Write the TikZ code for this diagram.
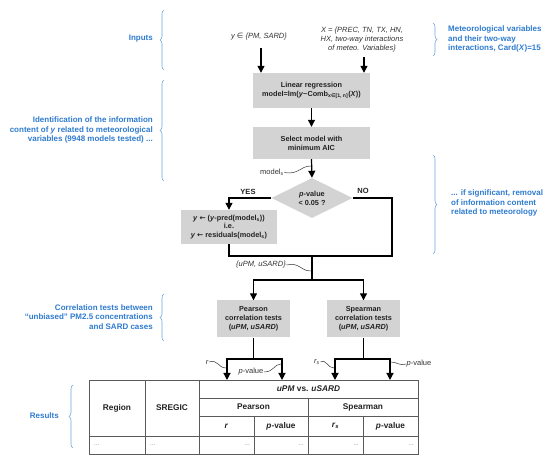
\documentclass[tikz,border=0pt]{standalone}
\usepackage{fontspec}
\setmainfont{Liberation Sans}
\newfontfamily\djv{DejaVu Sans}
\usetikzlibrary{arrows.meta,shapes.geometric,decorations.pathreplacing}
\definecolor{boxgray}{HTML}{D3D3D3}
\definecolor{lblue}{HTML}{2E7BCF}
\definecolor{bblue}{HTML}{6FA8DC}
\definecolor{tline}{HTML}{5A5A5A}
\definecolor{txt}{HTML}{222222}
\begin{document}
\begin{tikzpicture}[x=1pt,y=-1pt,
  proc/.style={fill=boxgray, inner sep=0pt, align=center, text=txt, font=\fontsize{7.3}{8.8}\selectfont\bfseries},
  arr/.style={line width=1.2pt, -{Triangle[length=7pt,width=7pt]}},
  ln/.style={line width=1.2pt},
  sq/.style={line width=0.5pt, draw=black!80},
  blu/.style={text=lblue, inner sep=0pt, font=\fontsize{8}{9.2}\selectfont\bfseries},
  brc/.style={draw=bblue, line width=0.6pt, decorate, decoration={brace, amplitude=4pt}},
  lab/.style={font=\fontsize{7.5}{9}\selectfont\itshape, text=black!80, inner sep=0.5pt},
  th/.style={font=\fontsize{8.3}{10}\selectfont\bfseries, text=txt},
  tl/.style={draw=tline, line width=0.9pt},
  dts/.style={text=gray, font=\fontsize{6}{7}\selectfont, inner sep=0pt},
]
\useasboundingbox (0,0) rectangle (550,462);

% ---------- inputs
\node[lab] (yin) at (259,37) {y {\djv\upshape ∈} \{PM, SARD\}};
\node[lab, align=center] (xin) at (362,40) {X = \{PREC, TN, TX, HN,\\HX, two-way interactions\\of meteo. Variables\}};

% ---------- process boxes
\node[proc, minimum width=117, minimum height=35] (lr) at (311.5,90.5)
  {Linear regression\\model=lm(\textit{y}\textasciitilde Comb\textsubscript{x{\djv ∈}[1, n]}(\textit{X}))};
\node[proc, minimum width=117, minimum height=32] (sel) at (311.5,143)
  {Select model with\\minimum AIC};
\node[diamond, fill=boxgray, minimum width=81, minimum height=40, inner sep=0pt, aspect=2,
  align=center, text=txt, font=\fontsize{7.3}{8.8}\selectfont\bfseries] (dia) at (312,198)
  {\textit{p}-value\\< 0.05 ?};
\node[proc, minimum width=96, minimum height=34] (res) at (229,227)
  {\textit{y} {\djv ←} (\textit{y}-pred(model\textsubscript{s}))\\i.e.\\\textit{y} {\djv ←} residuals(model\textsubscript{s})};
\node[proc, minimum width=73, minimum height=37] (pe) at (253.5,319)
  {Pearson\\correlation tests\\(\textit{uPM}, \textit{uSARD})};
\node[proc, minimum width=73, minimum height=37] (spm) at (363.5,319)
  {Spearman\\correlation tests\\(\textit{uPM}, \textit{uSARD})};

% ---------- table
\node[draw=tline, line width=0.9pt, minimum width=329, minimum height=74, inner sep=0pt] (tab) at (253.5,417) {};
\draw[tl] (145,380) -- (145,454);
\draw[tl] (199,380) -- (199,454);
\draw[tl] (199,398) -- (418,398);
\draw[tl] (199,416) -- (418,416);
\draw[tl] (89,436) -- (418,436);
\draw[tl] (254,416) -- (254,454);
\draw[tl] (308,398) -- (308,454);
\draw[tl] (363,416) -- (363,454);
\node[th] (hreg) at (117,408) {Region};
\node[th] (hsre) at (172,408) {SREGIC};
\node[th] (hvs) at (308.5,389) {\textit{uPM} vs. \textit{uSARD}};
\node[th] (hpe) at (253.5,407) {Pearson};
\node[th] (hsp) at (363,407) {Spearman};
\node[th] (hr) at (226.5,426) {\textit{r}};
\node[th] (hp1) at (281,426) {\textit{p}-value};
\node[th] (hrs) at (335.5,426) {\textit{r}\textsubscript{\textit{s}}};
\node[th] (hp2) at (390.5,426) {\textit{p}-value};
\node[dts, anchor=west] (d1) at (94,445) {...};
\node[dts, anchor=west] (d2) at (150,445) {...};
\node[dts, anchor=east] (d3) at (250,445) {...};
\node[dts, anchor=east] (d4) at (304,445) {...};
\node[dts, anchor=east] (d5) at (359,445) {...};
\node[dts, anchor=east] (d6) at (414,445) {...};

% ---------- connectors
\coordinate (ya) at (261,48);
\coordinate (xa) at (364,57);
\draw[arr] (ya) -- (ya |- lr.north);
\draw[arr] (xa) -- (xa |- lr.north);
\draw[arr] (lr.south) -- (sel.north);
\draw[arr] (sel.south) -- (dia.north);
\draw[arr] (dia.west) -| (res.north);
\node[font=\fontsize{7.5}{9}\selectfont\bfseries, text=txt] (yes) at (248,191.5) {YES};
\node[font=\fontsize{7.5}{9}\selectfont\bfseries, text=txt] (no) at (363,190.5) {NO};
\coordinate (noc) at (392,256);
\coordinate (mg) at (312,256);
\coordinate (sp) at (312,280);
\draw[ln] (dia.east) -| (noc) -- (mg);
\draw[ln] (res.south) |- (mg);
\draw[ln] (mg) -- (sp);
\draw[arr] (sp) -| (pe.north);
\draw[arr] (sp) -| (spm.north);
\coordinate (pj) at (253.5,359);
\coordinate (sj) at (363.5,359);
\coordinate (t1) at (227,380);
\coordinate (t2) at (282,380);
\coordinate (t3) at (335,380);
\coordinate (t4) at (390,380);
\draw[ln] (pe.south) -- (pj);
\draw[ln] (spm.south) -- (sj);
\draw[arr] (pj) -| (t1);
\draw[arr] (pj) -| (t2);
\draw[arr] (sj) -| (t3);
\draw[arr] (sj) -| (t4);

% ---------- small labels with squiggles
\node[lab, font=\fontsize{7.5}{9}\selectfont] (ms) at (272,172.5) {model\textsubscript{s}};
\coordinate (msq) at (311,166);
\draw[sq] (ms.east) .. controls (299,175) and (300,166) .. (msq);
\node[lab] (uu) at (261,265) {\{uPM, uSARD\}};
\coordinate (uq) at (311,271);
\draw[sq] (uu.east) .. controls (300,262) and (300,271) .. (uq);
\node[lab] (rl) at (207,362) {r};
\coordinate (rq) at (226,368);
\draw[sq] (rl.east) .. controls (218,359) and (218,368) .. (rq);
\node[lab, font=\fontsize{7.5}{9}\selectfont] (pv1) at (251,372) {\textit{p}-value};
\coordinate (pq) at (281,364);
\draw[sq] (pv1.east) .. controls (274,372) and (274,364) .. (pq);
\node[lab] (rsl) at (317,362) {r\textsubscript{s}};
\coordinate (rsq) at (334,368);
\draw[sq] (rsl.east) .. controls (327,359) and (327,368) .. (rsq);
\node[lab, font=\fontsize{7.5}{9}\selectfont, anchor=west] (pv2) at (406,364) {\textit{p}-value};
\coordinate (p2q) at (391,362);
\draw[sq] (p2q) .. controls (397,362) and (399,366) .. (pv2.west);

% ---------- blue annotations and braces
\node[blu, anchor=east] (inp) at (153,39) {Inputs};
\draw[brc] (164,70) -- (164,10);
\node[blu, anchor=east, align=right] (ident) at (153,130)
  {Identification of the information\\content of \textit{y} related to meteorological\\variables (9948 models tested) ...};
\draw[brc] (164,181) -- (164,80);
\node[blu, anchor=east, align=right] (corr) at (153,317)
  {Correlation tests between\\“unbiased” PM2.5 concentrations\\and SARD cases};
\draw[brc] (164,341) -- (164,294);
\node[blu, anchor=east] (resl) at (59,416) {Results};
\draw[brc] (73,448) -- (73,385);
\node[blu, anchor=west, align=left] (met) at (448,39)
  {Meteorological variables\\and their two-way\\interactions, Card(\textit{X})=15};
\draw[brc] (433,23) -- (433,56);
\node[blu, anchor=west, align=left] (sig) at (451,203)
  {... if significant, removal\\of information content\\related to meteorology};
\draw[brc] (433,155) -- (433,254);
\end{tikzpicture}
\end{document}
